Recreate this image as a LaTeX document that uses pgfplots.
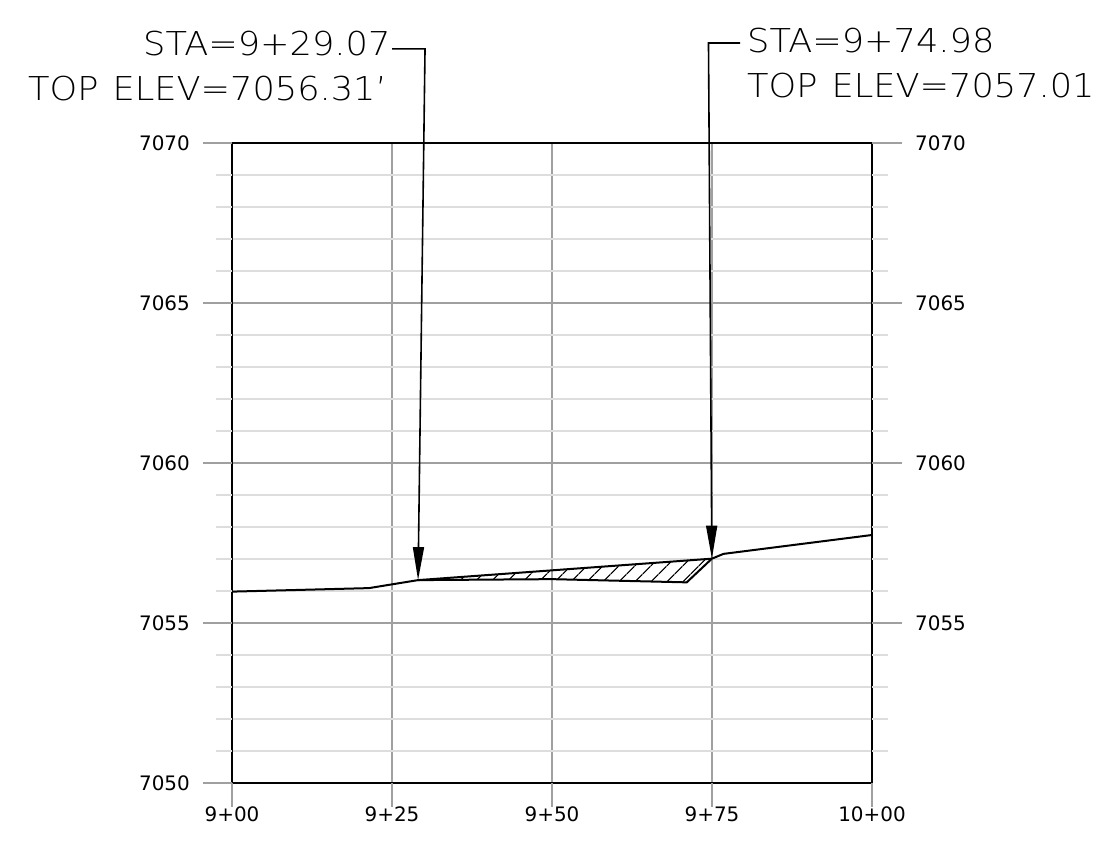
\documentclass[border=0pt]{standalone}
\usepackage{fontspec}
\setmainfont{DejaVu Sans}
\newfontfamily\cadfont[FakeStretch=1.07]{DejaVu Sans ExtraLight}
\usepackage{pgfplots}
\pgfplotsset{compat=1.18}
\usetikzlibrary{arrows.meta,patterns.meta}

\definecolor{majgrid}{HTML}{A0A0A0}
\definecolor{mingrid}{HTML}{DDDDDD}

\begin{document}
\begin{tikzpicture}[x=1bp,y=1bp]
\path[use as bounding box] (0,0) rectangle (1112,845);
\begin{axis}[
  at={(232bp,62bp)}, anchor=south west,
  scale only axis, width=640bp, height=640bp,
  xmin=900, xmax=1000, ymin=7050, ymax=7070,
  clip=false,
  axis line style={black, line width=1.3bp},
  xtick={900,925,950,975,1000},
  xticklabels={9+00,9+25,9+50,9+75,10+00},
  ytick={7050,7055,7060,7065,7070},
  yticklabels={7050,7055,7060,7065,7070},
  minor ytick={7051,7052,7053,7054,7056,7057,7058,7059,7061,7062,7063,7064,7066,7067,7068,7069},
  major tick length=0pt, minor tick length=0pt,
  xtick pos=bottom, ytick pos=left,
  tick label style={font=\fontsize{20}{24}\selectfont, inner sep=0pt},
  xticklabel style={anchor=north, yshift=-24bp},
  yticklabel style={anchor=east, xshift=-42bp},
  xmajorgrids, ymajorgrids, yminorgrids,
  major grid style={majgrid, line width=1.2bp},
  minor grid style={mingrid, line width=1.2bp},
]
% grid lines running past the frame
\pgfplotsinvokeforeach{7050,7055,7060,7065,7070}{
  \draw[majgrid, line width=1.2bp] (axis cs:895.47,#1) -- (axis cs:900,#1);}
\pgfplotsinvokeforeach{7055,7060,7065,7070}{
  \draw[majgrid, line width=1.2bp] (axis cs:1000,#1) -- (axis cs:1004.69,#1);
  \node[anchor=west, inner sep=0pt, font=\fontsize{20}{24}\selectfont] at (axis cs:1006.72,#1) {#1};}
\pgfplotsinvokeforeach{7051,7052,7053,7054,7056,7057,7058,7059,7061,7062,7063,7064,7066,7067,7068,7069}{
  \draw[mingrid, line width=1.2bp] (axis cs:897.5,#1) -- (axis cs:900,#1);
  \draw[mingrid, line width=1.2bp] (axis cs:1000,#1) -- (axis cs:1002.5,#1);}
\pgfplotsinvokeforeach{900,925,950,975,1000}{
  \draw[majgrid, line width=1.2bp] (axis cs:#1,7050) -- (axis cs:#1,7049.25);}

% hatched fill between proposed top and existing ground
\addplot[draw=none, pattern={Lines[angle=45,distance=11.8bp,line width=1.3bp]}, pattern color=black]
  coordinates {(929.07,7056.34) (974.98,7057.01) (971.05,7056.27) (950,7056.37) (929.07,7056.34)};
% existing ground
\addplot[black, line width=2bp] coordinates {
  (900,7055.98) (921.4,7056.09) (929.07,7056.34) (950,7056.37)
  (971.05,7056.27) (974.98,7057.01) (976.8,7057.16) (1000,7057.75)};
% top line
\addplot[black, line width=2bp] coordinates {(929.07,7056.34) (974.98,7057.01)};

% leaders
\draw[black, line width=1.6bp, -{Triangle[length=33bp,width=11bp]}]
  (axis cs:925.0,7072.94) -- (axis cs:930.16,7072.94) -- (axis cs:929.07,7056.34);
\draw[black, line width=1.6bp, -{Triangle[length=33bp,width=11bp]}]
  (axis cs:979.375,7073.125) -- (axis cs:974.45,7073.125) -- (axis cs:974.98,7057.01);
\end{axis}

\begin{scope}[every node/.style={inner sep=0pt, anchor=base west, font=\cadfont\fontsize{33}{36}\selectfont}]
\node at (143,789) {STA=9+29.07};
\node at (28,744) {TOP\hspace{14bp}ELEV=7056.31’};
\node at (747,792) {STA=9+74.98};
\node at (747,747) {TOP\hspace{14bp}ELEV=7057.01};
\end{scope}
\end{tikzpicture}
\end{document}
